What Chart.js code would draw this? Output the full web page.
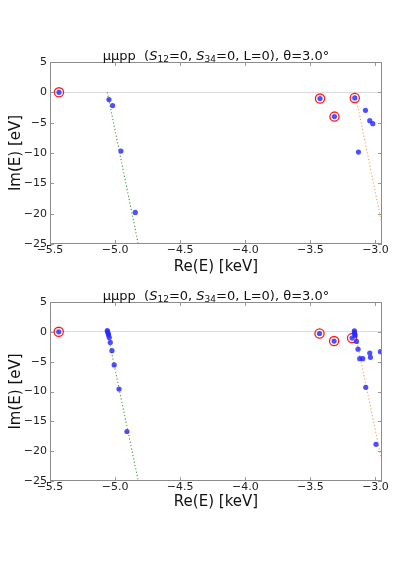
<!DOCTYPE html>
<html><head><meta charset="utf-8">
<script src="https://cdn.jsdelivr.net/npm/chart.js@4/dist/chart.umd.min.js"></script>
<style>
html,body{margin:0;padding:0;background:#fff;width:397px;height:561px;overflow:hidden}
.box{position:absolute;left:0;width:397px}
</style></head><body>
<div class="box" style="top:0;height:280px"><canvas id="c1"></canvas></div>
<div class="box" style="top:280px;height:281px"><canvas id="c2"></canvas></div>
<script>
// ---- data ----
const xTicks = [-5.5, -5.0, -4.5, -4.0, -3.5, -3.0];
const yTicks = [-25, -20, -15, -10, -5, 0, 5];
const xRange = [-5.5, -2.95];
const yRange = [-25, 5];
const titleSegments = [["μμpp  (", "n"], ["S", "i"], ["12", "s"], ["=0, ", "n"], ["S", "i"], ["34", "s"], ["=0, L=0), θ=3.0°", "n"]];
const xLabel = "Re(E) [keV]";
const yLabel = "Im(E) [eV]";

// rotated cut lines (threshold -> lower edge)
const cutGreenRe = [-5.06, -4.822];
const cutGreenIm = [0, -25];
const cutOrangeRe = [-3.158, -2.92];
const cutOrangeIm = [0, -25];

// top panel
const topStateRe = [-5.431, -5.047, -5.019, -4.955, -4.845, -3.426, -3.315, -3.159, -3.077, -3.044, -3.021, -3.131];
const topStateIm = [0.0, -1.2, -2.19, -9.68, -19.8, -1.03, -4.0, -0.92, -2.97, -4.67, -5.17, -9.84];
const topResRe = [-5.431, -3.426, -3.315, -3.159];
const topResIm = [0.0, -1.03, -4.0, -0.92];

// bottom panel
const botStateRe = [-5.433, -5.060, -5.057, -5.053, -5.050, -5.045, -5.037, -5.024, -5.007, -4.970, -4.909,
  -3.430, -3.318, -3.180, -3.162, -3.162, -3.159, -3.157, -3.146, -3.134, -3.121, -3.098, -3.044, -3.039, -2.962, -3.075, -2.996];
const botStateIm = [0.0, 0.22, 0.0, -0.28, -0.55, -0.95, -1.78, -3.16, -5.54, -9.6, -16.7,
  -0.28, -1.55, -1.05, 0.17, -0.1, -0.4, -0.67, -1.6, -2.9, -4.5, -4.5, -3.55, -4.28, -3.33, -9.3, -18.85];
const botResRe = [-5.433, -3.430, -3.318, -3.180];
const botResIm = [0.0, -0.28, -1.55, -1.05];

// ---- helpers ----
const FAM = '"DejaVu Sans", sans-serif';
const pts = (xs, ys) => xs.map((x, i) => ({x: x, y: ys[i]}));
const minus = s => String(s).replace('-', '\u2212');

const framePlugin = {
  id: 'frame',
  afterDatasetsDraw(chart) {
    const {ctx, chartArea: a, scales: {x, y}} = chart;
    ctx.save();
    ctx.strokeStyle = '#9a9a9a';
    ctx.lineWidth = 1;
    ctx.beginPath();
    x.ticks.forEach(t => {
      const p = Math.round(x.getPixelForValue(t.value)) + 0.5;
      ctx.moveTo(p, a.top); ctx.lineTo(p, a.top + 4);
      ctx.moveTo(p, a.bottom); ctx.lineTo(p, a.bottom - 4);
    });
    y.ticks.forEach(t => {
      const p = Math.round(y.getPixelForValue(t.value)) + 0.5;
      ctx.moveTo(a.left, p); ctx.lineTo(a.left + 4, p);
      ctx.moveTo(a.right, p); ctx.lineTo(a.right - 4, p);
    });
    ctx.stroke();
    ctx.strokeStyle = '#8c8c8c';
    ctx.strokeRect(Math.round(a.left) + 0.5, Math.round(a.top) + 0.5, Math.round(a.right - a.left) - 1, Math.round(a.bottom - a.top) - 1);
    ctx.restore();
  },
  afterDraw(chart) {
    const {ctx, chartArea: a} = chart;
    const base = 13, sub = 9;
    const fontOf = k => k === 'i' ? `italic ${base}px ${FAM}` : (k === 's' ? `${sub}px ${FAM}` : `${base}px ${FAM}`);
    ctx.save();
    ctx.fillStyle = '#111';
    ctx.textBaseline = 'alphabetic';
    ctx.textAlign = 'left';
    let total = 0;
    titleSegments.forEach(([t, k]) => { ctx.font = fontOf(k); total += ctx.measureText(t).width; });
    let xx = (a.left + a.right) / 2 - total / 2;
    const by = a.top - 2;
    titleSegments.forEach(([t, k]) => {
      ctx.font = fontOf(k);
      ctx.fillText(t, xx, k === 's' ? by + 2 : by);
      xx += ctx.measureText(t).width;
    });
    ctx.restore();
  }
};

function makeChart(id, padTop, xHeight, xTitlePad, stRe, stIm, rsRe, rsIm) {
  return new Chart(document.getElementById(id), {
    type: 'scatter',
    data: {
      datasets: [
        {data: pts(stRe, stIm), pointRadius: 2.6, pointHoverRadius: 2.6, backgroundColor: 'rgba(40,40,255,0.82)', borderWidth: 0},
        {data: pts(rsRe, rsIm), pointRadius: 4.6, pointHoverRadius: 4.6, backgroundColor: 'rgba(0,0,0,0)', borderColor: '#ff1a1a', borderWidth: 1.3},
        {data: pts(cutGreenRe, cutGreenIm), showLine: true, pointRadius: 0, borderColor: '#3c9e3c', borderWidth: 1.1, borderDash: [1.2, 2.2]},
        {data: pts(cutOrangeRe, cutOrangeIm), showLine: true, pointRadius: 0, borderColor: '#ffa040', borderWidth: 1.1, borderDash: [1.2, 2.2]}
      ]
    },
    options: {
      responsive: true, maintainAspectRatio: false, animation: false, devicePixelRatio: 1,
      layout: {padding: {top: padTop, right: 15, left: 0, bottom: 0}},
      plugins: {legend: {display: false}, tooltip: {enabled: false}},
      scales: {
        x: {
          type: 'linear', min: xRange[0], max: xRange[1],
          afterBuildTicks: s => { s.ticks = xTicks.map(v => ({value: v})); },
          afterFit: s => { s.height = xHeight; s.paddingLeft = 0; s.paddingRight = 0; },
          ticks: {callback: v => minus(v.toFixed(1)), font: {size: 11, family: FAM}, color: '#222', padding: 0, maxRotation: 0, autoSkip: false},
          grid: {display: false, drawTicks: false},
          border: {display: false},
          title: {display: true, text: xLabel, font: {size: 15, family: FAM}, color: '#111', padding: {top: 0, bottom: xTitlePad}}
        },
        y: {
          type: 'linear', min: yRange[0], max: yRange[1],
          afterBuildTicks: s => { s.ticks = yTicks.map(v => ({value: v})); },
          afterFit: s => { s.width = 50; s.paddingTop = 0; s.paddingBottom = 0; },
          ticks: {callback: v => minus(v.toFixed(0)), font: {size: 11, family: FAM}, color: '#222', padding: 3, autoSkip: false},
          grid: {drawTicks: false, color: c => (c.tick && c.tick.value === 0) ? '#dcdcdc' : 'rgba(0,0,0,0)', lineWidth: 1},
          border: {display: false},
          title: {display: true, text: yLabel, font: {size: 15, family: FAM}, color: '#111', padding: {top: 7, bottom: 0}}
        }
      }
    },
    plugins: [framePlugin]
  });
}

makeChart('c1', 62, 36, 4, topStateRe, topStateIm, topResRe, topResIm);
makeChart('c2', 22, 80, 50, botStateRe, botStateIm, botResRe, botResIm);
</script>
</body></html>
